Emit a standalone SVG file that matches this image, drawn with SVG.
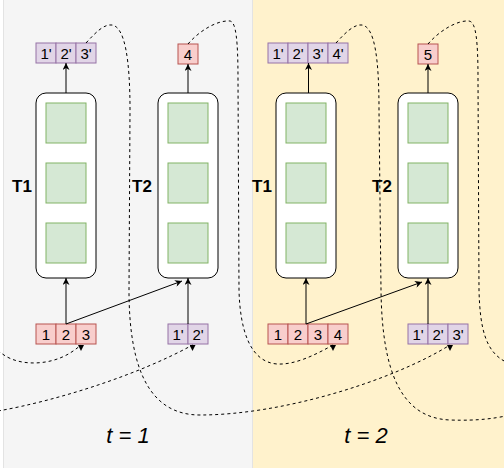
<svg xmlns="http://www.w3.org/2000/svg" width="504" height="468" viewBox="0 0 504 468">
<defs>
<style>
.cell{stroke-width:1}
.red{fill:#f8cecc;stroke:#b85450}
.pur{fill:#e1d5e7;stroke:#9673a6}
.blk{fill:#ffffff;stroke:#000000;stroke-width:1}
.grn{fill:#d5e8d4;stroke:#82b366;stroke-width:1}
.ct{font-family:"Liberation Sans",Arial,sans-serif;font-size:15px;fill:#000;text-anchor:middle}
.lb{font-family:"Liberation Sans",Arial,sans-serif;font-size:17px;font-weight:bold;fill:#000;text-anchor:middle}
.tl{font-family:"Liberation Sans",Arial,sans-serif;font-size:22px;font-style:italic;fill:#000;text-anchor:middle}
.sol{fill:none;stroke:#000;stroke-width:1;marker-end:url(#arr)}
.dash{fill:none;stroke:#000;stroke-width:1;stroke-dasharray:3 3}
.dashA{marker-end:url(#tri)}
</style>
<marker id="arr" viewBox="0 0 10 10" refX="10" refY="5" markerWidth="9" markerHeight="7" markerUnits="userSpaceOnUse" orient="auto">
<path d="M10,5 L0,0 L3,5 L0,10 Z" fill="#000"/>
</marker>
<marker id="tri" viewBox="0 0 6 6" refX="0" refY="3" markerWidth="6" markerHeight="6" markerUnits="userSpaceOnUse" orient="90">
<path d="M0,0 L6,3 L0,6 Z" fill="#000"/>
</marker>
</defs>
<rect x="0" y="0" width="504" height="468" fill="#ffffff"/>
<g id="panel-t1">
<rect x="3.5" y="-1" width="249" height="470" fill="#f5f5f5" stroke="#e3e3e3"/>
<text class="tl" x="128" y="443">t = 1</text>
</g>
<g id="panel-t2">
<rect x="253" y="-1" width="252" height="470" fill="#fff2cc"/>
<text class="tl" x="366" y="443">t = 2</text>
</g>

<g id="out-t1-T1">
<rect class="pur" x="36" y="43" width="20" height="20"/>
<rect class="pur" x="56" y="43" width="20" height="20"/>
<rect class="pur" x="76" y="43" width="20" height="20"/>
<text class="ct" x="46" y="58.5">1'</text>
<text class="ct" x="66" y="58.5">2'</text>
<text class="ct" x="86" y="58.5">3'</text>
</g>
<g id="out-t1-T2">
<rect class="red" x="178" y="44" width="20" height="20"/>
<text class="ct" x="188" y="59.5">4</text>
</g>
<g id="out-t2-T1">
<rect class="pur" x="268" y="43" width="20" height="20"/>
<rect class="pur" x="288" y="43" width="20" height="20"/>
<rect class="pur" x="308" y="43" width="20" height="20"/>
<rect class="pur" x="328" y="43" width="20" height="20"/>
<text class="ct" x="278" y="58.5">1'</text>
<text class="ct" x="298" y="58.5">2'</text>
<text class="ct" x="318" y="58.5">3'</text>
<text class="ct" x="338" y="58.5">4'</text>
</g>
<g id="out-t2-T2">
<rect class="red" x="418" y="44" width="20" height="20"/>
<text class="ct" x="428" y="59.5">5</text>
</g>

<g id="t1-T1">
<rect class="blk" x="36" y="93" width="60" height="185" rx="10"/>
<rect class="grn" x="46" y="103" width="40" height="40"/>
<rect class="grn" x="46" y="163" width="40" height="40"/>
<rect class="grn" x="46" y="223" width="40" height="40"/>
<text class="lb" x="22" y="192">T1</text>
</g>
<g id="t1-T2">
<rect class="blk" x="158" y="93" width="60" height="185" rx="10"/>
<rect class="grn" x="168" y="103" width="40" height="40"/>
<rect class="grn" x="168" y="163" width="40" height="40"/>
<rect class="grn" x="168" y="223" width="40" height="40"/>
<text class="lb" x="142" y="192">T2</text>
</g>
<g id="t2-T1">
<rect class="blk" x="276" y="93" width="60" height="185" rx="10"/>
<rect class="grn" x="286" y="103" width="40" height="40"/>
<rect class="grn" x="286" y="163" width="40" height="40"/>
<rect class="grn" x="286" y="223" width="40" height="40"/>
<text class="lb" x="262" y="192">T1</text>
</g>
<g id="t2-T2">
<rect class="blk" x="398" y="93" width="60" height="185" rx="10"/>
<rect class="grn" x="408" y="103" width="40" height="40"/>
<rect class="grn" x="408" y="163" width="40" height="40"/>
<rect class="grn" x="408" y="223" width="40" height="40"/>
<text class="lb" x="382" y="192">T2</text>
</g>

<g id="in-t1-T1">
<rect class="red" x="36" y="324" width="20" height="20"/>
<rect class="red" x="56" y="324" width="20" height="20"/>
<rect class="red" x="76" y="324" width="20" height="20"/>
<text class="ct" x="46" y="339.5">1</text>
<text class="ct" x="66" y="339.5">2</text>
<text class="ct" x="86" y="339.5">3</text>
</g>
<g id="in-t1-T2">
<rect class="pur" x="168" y="324" width="20" height="20"/>
<rect class="pur" x="188" y="324" width="20" height="20"/>
<text class="ct" x="178" y="339.5">1'</text>
<text class="ct" x="198" y="339.5">2'</text>
</g>
<g id="in-t2-T1">
<rect class="red" x="268" y="324" width="20" height="20"/>
<rect class="red" x="288" y="324" width="20" height="20"/>
<rect class="red" x="308" y="324" width="20" height="20"/>
<rect class="red" x="328" y="324" width="20" height="20"/>
<text class="ct" x="278" y="339.5">1</text>
<text class="ct" x="298" y="339.5">2</text>
<text class="ct" x="318" y="339.5">3</text>
<text class="ct" x="338" y="339.5">4</text>
</g>
<g id="in-t2-T2">
<rect class="pur" x="408" y="324" width="20" height="20"/>
<rect class="pur" x="428" y="324" width="20" height="20"/>
<rect class="pur" x="448" y="324" width="20" height="20"/>
<text class="ct" x="418" y="339.5">1'</text>
<text class="ct" x="438" y="339.5">2'</text>
<text class="ct" x="458" y="339.5">3'</text>
</g>

<g id="connectors">
<path class="sol" d="M66,93 L66,63"/>
<path class="sol" d="M188,93 L188,64"/>
<path class="sol" d="M66,324 L66,278"/>
<path class="sol" d="M66,324 L182,281"/>
<path class="sol" d="M188,324 L188,278"/>
<path class="sol" d="M308.5,93 L308.5,63"/>
<path class="sol" d="M428,93 L428,64"/>
<path class="sol" d="M306,324 L306,278"/>
<path class="sol" d="M306,324 L422,282"/>
<path class="sol" d="M428,324 L428,278"/>

<path class="dash dashA" d="M-2,350 C12,365 40,366 60,358 C68,355 75,350 81,345"/>
<path class="dash dashA" d="M-2,411 C60,400 140,374 192.5,345"/>
<path class="dash dashA" d="M86,43 C96,32 104,24 112,25 C125,27 130,60 130,110 L129,290 C129,370 150,415 200,415 C280,415 390,382 450,345"/>
<path class="dash dashA" d="M188,44 C200,30 218,20 230,21 C236,22 238,40 238,80 L239,290 C240,330 250,362 277,364 C295,365 315,355 333,345"/>
<path class="dash" d="M336,43 C345,33 354,24 362,25 C375,27 379,60 379,110 L381,290 C382,370 400,418 450,420 C480,421 495,418 506,416"/>
<path class="dash" d="M428,44 C440,30 458,20 469,21 C476,22 478,40 478,80 L479,290 C480,330 486,352 506,362"/>
</g>
</svg>
